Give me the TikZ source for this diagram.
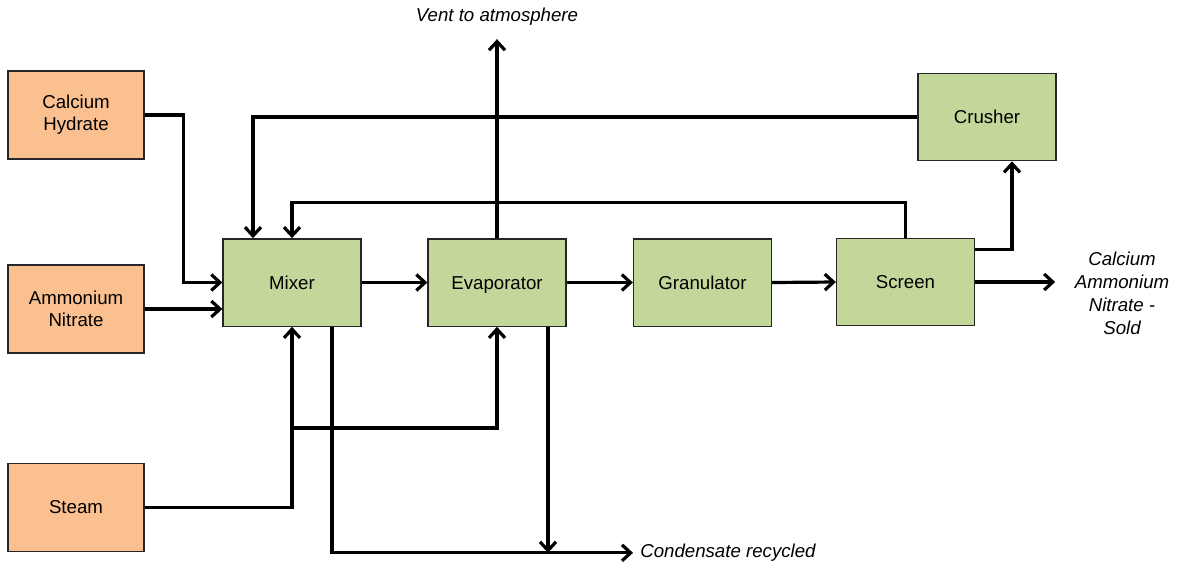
\documentclass[tikz,border=0pt]{standalone}
\usepackage{fontspec}
\setmainfont{Liberation Sans}
\usetikzlibrary{arrows.meta,calc}
\definecolor{feedfill}{HTML}{FAC090}
\definecolor{unitfill}{HTML}{C4D79B}
\definecolor{boxline}{HTML}{262626}
\begin{document}
\begin{tikzpicture}[x=0.75pt,y=-0.75pt,
  box/.style={draw=boxline,line width=1pt,font=\fontsize{14}{16.5}\selectfont,align=center,inner sep=0pt},
  feed/.style={box,fill=feedfill,minimum width=102pt,minimum height=66pt},
  unit/.style={box,fill=unitfill,minimum width=103.5pt,minimum height=65.5pt,text height=10pt,text depth=0pt},
  arr/.style={line width=2.4pt,line join=miter,-{Straight Barb[length=6.5pt,width=12pt,line width=2.4pt]}},
  lbl/.style={font=\fontsize{14}{17.25}\selectfont\itshape,align=center,inner sep=0pt}]
\useasboundingbox (0,0) rectangle (1185,562);
\node[feed] (ch) at (76,115) {Calcium\\Hydrate};
\node[feed] (an) at (76,309) {Ammonium\\Nitrate};
\node[feed] (steam) at (76,507.5) {Steam};
\node[unit] (mixer) at (292,282.5) {Mixer};
\node[unit] (evap) at (497,282.5) {Evaporator};
\node[unit] (gran) at (702.5,282.5) {Granulator};
\node[unit] (screen) at (905.5,282) {Screen};
\node[unit] (crusher) at (987,117) {Crusher};
% feeds
\draw[arr] (ch.east) -- ++(39,0) |- (mixer.west);
\draw[arr] (an.east) -- (an.east -| mixer.west);
% recycles
\draw[arr] (crusher.west) -| ($(mixer.north)+(-39,0)$);
\draw[arr] (screen.north) -- ++(0,-35) -| (mixer.north);
\draw[arr] ($(screen.north east)+(0,12)$) -| ($(crusher.south)+(25,0)$);
% main line
\draw[arr] (mixer.east) -- (evap.west);
\draw[arr] (evap.east) -- (gran.west);
\draw[arr] (gran.east) -- (screen.west);
\draw[arr] (screen.east) -- ++(80,0) coordinate (prod);
\node[lbl] (prodlbl) at (1122,293.5) {Calcium\\Ammonium\\Nitrate -\\Sold};
% vent
\draw[arr] (evap.north) -- ++(0,-199) coordinate (vent);
\node[lbl] (ventlbl) at (497,17) {Vent to atmosphere};
% steam
\draw[arr] (steam.east) -| (mixer.south);
\coordinate (br) at (292,428);
\draw[arr] (br) -| (evap.south);
% condensate
\draw[arr] ($(mixer.south)+(40,0)$) -- ++(0,226) -- ++(301,0) coordinate (cond);
\draw[arr] ($(evap.south)+(51,0)$) -- ++(0,226);
\node[lbl,anchor=west] (condlbl) at ($(cond)+(7,0)$) {Condensate recycled};
\end{tikzpicture}
\end{document}
